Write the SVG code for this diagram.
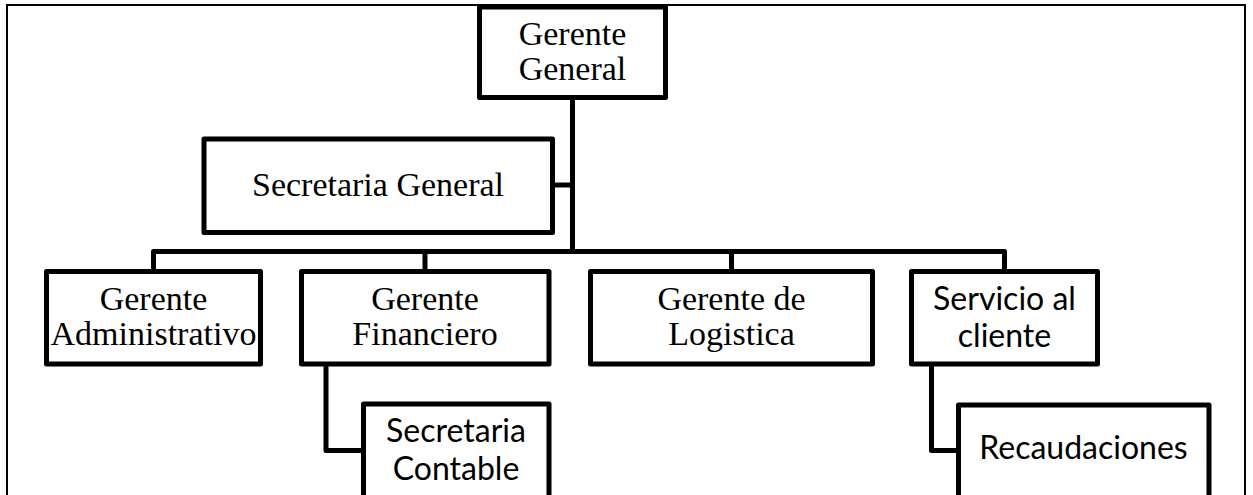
<svg xmlns="http://www.w3.org/2000/svg" width="1253" height="495" viewBox="0 0 1253 495">
<style>
.box{fill:#fff;stroke:#000;stroke-width:5;stroke-linejoin:round}
.ln{fill:none;stroke:#000;stroke-width:5;stroke-linejoin:round}
.tr{font-family:"Liberation Serif","Times New Roman",serif;font-size:34px;fill:#000;text-anchor:middle}
.ca{font-family:Lato,"Liberation Sans",sans-serif;font-size:32px;fill:#000;text-anchor:middle}
</style>
<rect x="7" y="5" width="1238" height="510" fill="#fff" stroke="#000" stroke-width="2"/>
<g id="connectors">
<path class="ln" d="M572.5 97.5V251.5"/>
<path class="ln" d="M552.5 185H572.5"/>
<path class="ln" d="M153.5 271.5V251.5H1004.5V271.5"/>
<path class="ln" d="M425 251.5V271.5"/>
<path class="ln" d="M731.5 251.5V271.5"/>
<path class="ln" d="M326 364V450.5H363.5"/>
<path class="ln" d="M931.5 364V450.5H958.5"/>
</g>
<g id="gerente-general">
<rect class="box" x="479.5" y="7" width="186" height="90.5"/>
<text class="tr" x="572.5" y="45">Gerente</text>
<text class="tr" x="572.5" y="80">General</text>
</g>
<g id="secretaria-general">
<rect class="box" x="204" y="139" width="348.5" height="93.5"/>
<text class="tr" x="378" y="196">Secretaria General</text>
</g>
<g id="gerente-administrativo">
<rect class="box" x="46.5" y="271.5" width="214" height="92.5"/>
<text class="tr" x="153.5" y="310">Gerente</text>
<text class="tr" x="153.5" y="345">Administrativo</text>
</g>
<g id="gerente-financiero">
<rect class="box" x="301.5" y="271.5" width="247.5" height="92.5"/>
<text class="tr" x="425" y="310">Gerente</text>
<text class="tr" x="425" y="345">Financiero</text>
</g>
<g id="gerente-logistica">
<rect class="box" x="590.5" y="271.5" width="282" height="92.5"/>
<text class="tr" x="731.5" y="310">Gerente de</text>
<text class="tr" x="731.5" y="345">Logistica</text>
</g>
<g id="servicio-cliente">
<rect class="box" x="911.5" y="271.5" width="186" height="92.5"/>
<text class="ca" x="1004.5" y="310">Servicio al</text>
<text class="ca" x="1004.5" y="346.5">cliente</text>
</g>
<g id="secretaria-contable">
<rect class="box" x="363.5" y="404" width="185.5" height="120"/>
<text class="ca" x="456" y="442">Secretaria</text>
<text class="ca" x="456" y="480">Contable</text>
</g>
<g id="recaudaciones">
<rect class="box" x="958.5" y="405" width="250.5" height="120"/>
<text class="ca" x="1083.5" y="459">Recaudaciones</text>
</g>
</svg>
